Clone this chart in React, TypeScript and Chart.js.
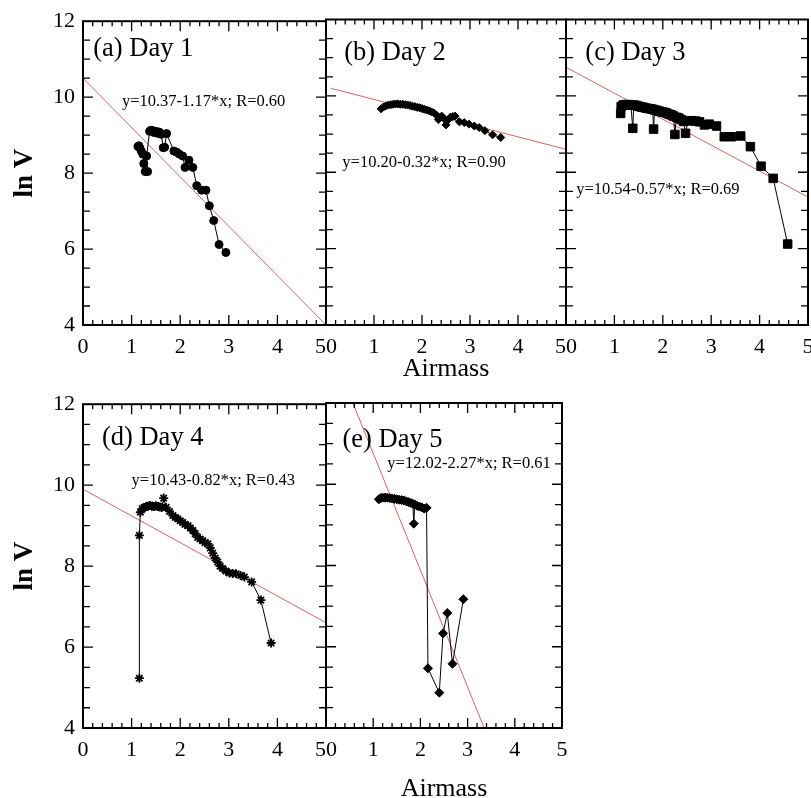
import React, { useEffect, useRef } from "react";
import { Chart, registerables } from "chart.js";

Chart.register(...registerables);

const SERIF = "'Liberation Serif', 'Times New Roman', Times, serif";
const RED = "#e06262";

// ---------- Data ----------
const xTickValues = [0, 1, 2, 3, 4, 5];
const yTickValues = [4, 6, 8, 10, 12];

// (a) Day 1
const airmassDay1 = [1.13, 1.15, 1.17, 1.2, 1.23, 1.25, 1.28, 1.33, 1.31, 1.37, 1.4, 1.43, 1.46, 1.5, 1.53, 1.57, 1.61, 1.65, 1.68, 1.72, 1.87, 1.93, 1.98, 2.05, 2.1, 2.18, 2.26, 2.34, 2.44, 2.53, 2.6, 2.69, 2.8, 2.94];
const lnVDay1 = [8.7, 8.72, 8.66, 8.58, 8.5, 8.25, 8.04, 8.04, 8.45, 9.1, 9.13, 9.12, 9.07, 9.1, 9.05, 9.08, 9.02, 8.67, 8.68, 9.04, 8.58, 8.55, 8.5, 8.45, 8.15, 8.34, 8.15, 7.67, 7.55, 7.55, 7.14, 6.75, 6.12, 5.91];
const fitXDay1 = [0, 5];
const fitYDay1 = [10.5, 4.0];

// (b) Day 2
const airmassDay2 = [1.15, 1.2, 1.25, 1.3, 1.35, 1.4, 1.45, 1.5, 1.55, 1.6, 1.65, 1.7, 1.75, 1.8, 1.85, 1.9, 1.95, 2.0, 2.05, 2.1, 2.15, 2.2, 2.25, 2.3, 2.34, 2.38, 2.41, 2.46, 2.5, 2.55, 2.59, 2.64, 2.69, 2.78, 2.88, 2.98, 3.09, 3.19, 3.31, 3.47, 3.64];
const lnVDay2 = [9.66, 9.71, 9.74, 9.76, 9.77, 9.78, 9.79, 9.79, 9.78, 9.78, 9.77, 9.76, 9.75, 9.73, 9.72, 9.7, 9.69, 9.67, 9.65, 9.63, 9.61, 9.58, 9.55, 9.5, 9.38, 9.44, 9.47, 9.4, 9.24, 9.38, 9.44, 9.46, 9.47, 9.32, 9.3, 9.26, 9.21, 9.17, 9.09, 8.98, 8.91];
const fitXDay2 = [0.1, 5];
const fitYDay2 = [10.2, 8.6];

// (c) Day 3
const airmassDay3 = [1.13, 1.14, 1.18, 1.22, 1.26, 1.3, 1.34, 1.38, 1.4, 1.45, 1.5, 1.55, 1.6, 1.65, 1.7, 1.75, 1.79, 1.81, 1.83, 1.88, 1.93, 1.98, 2.03, 2.08, 2.13, 2.18, 2.22, 2.25, 2.28, 2.33, 2.38, 2.43, 2.47, 2.52, 2.6, 2.68, 2.76, 2.86, 2.96, 3.11, 3.27, 3.42, 3.61, 3.81, 4.03, 4.28, 4.58];
const lnVDay3 = [9.54, 9.72, 9.76, 9.77, 9.77, 9.77, 9.76, 9.15, 9.76, 9.75, 9.73, 9.71, 9.7, 9.68, 9.67, 9.66, 9.65, 9.13, 9.63, 9.62, 9.6, 9.58, 9.57, 9.55, 9.52, 9.5, 9.47, 8.99, 9.44, 9.42, 9.38, 9.33, 9.02, 9.35, 9.35, 9.34, 9.32, 9.24, 9.26, 9.21, 8.93, 8.93, 8.95, 8.67, 8.16, 7.84, 6.12];
const fitXDay3 = [0, 5];
const fitYDay3 = [10.75, 7.35];

// (d) Day 4
const airmassDay4 = [1.16, 1.16, 1.18, 1.22, 1.26, 1.3, 1.34, 1.38, 1.42, 1.46, 1.5, 1.54, 1.58, 1.62, 1.66, 1.71, 1.78, 1.85, 1.9, 1.95, 2.0, 2.05, 2.1, 2.16, 2.21, 2.26, 2.31, 2.36, 2.41, 2.46, 2.51, 2.57, 2.62, 2.67, 2.72, 2.77, 2.82, 2.87, 2.94, 3.01, 3.08, 3.15, 3.24, 3.32, 3.47, 3.66, 3.87];
const lnVDay4 = [5.23, 8.76, 9.33, 9.42, 9.45, 9.47, 9.48, 9.5, 9.48, 9.47, 9.49, 9.47, 9.46, 9.45, 9.68, 9.45, 9.35, 9.25, 9.2, 9.17, 9.12, 9.08, 9.03, 9.0, 8.94, 8.88, 8.8, 8.71, 8.67, 8.63, 8.58, 8.55, 8.45, 8.32, 8.2, 8.1, 8.0, 7.94, 7.88, 7.83, 7.82, 7.81, 7.77, 7.73, 7.61, 7.16, 6.1];
const fitXDay4 = [0, 5];
const fitYDay4 = [9.9, 6.6];

// (e) Day 5
const airmassDay5 = [1.12, 1.16, 1.2, 1.25, 1.3, 1.35, 1.4, 1.45, 1.5, 1.55, 1.6, 1.65, 1.7, 1.75, 1.8, 1.84, 1.86, 1.88, 1.93, 1.98, 2.03, 2.08, 2.13, 2.16, 2.4, 2.48, 2.57, 2.68, 2.91];
const lnVDay5 = [9.63, 9.66, 9.67, 9.67, 9.67, 9.66, 9.65, 9.64, 9.63, 9.62, 9.61, 9.6, 9.58, 9.56, 9.54, 9.52, 9.03, 9.5, 9.47, 9.45, 9.43, 9.4, 9.42, 5.47, 4.87, 6.33, 6.83, 5.58, 7.17];
const fitXDay5 = [0.5, 3.4];
const fitYDay5 = [12.2, 3.86];

const panelTitles = ["(a) Day 1", "(b) Day 2", "(c) Day 3", "(d) Day 4", "(e) Day 5"];
const equations = [
  "y=10.37-1.17*x; R=0.60",
  "y=10.20-0.32*x; R=0.90",
  "y=10.54-0.57*x; R=0.69",
  "y=10.43-0.82*x; R=0.43",
  "y=12.02-2.27*x; R=0.61",
];

const EN = "\u2002";
const labelsLeftEdge = ["0", "1", "2", "3", "4", "5" + EN];
const labelsMiddle = [EN + "0", "1", "2", "3", "4", "5" + EN];
const labelsRightEdge = [EN + "0", "1", "2", "3", "4", "5"];

type Spec = {
  x: number[];
  y: number[];
  fitX: number[];
  fitY: number[];
  marker: string;
  radius: number;
  markerBorder: number;
  title: string;
  eq: string;
  titlePos: [number, number];
  eqPos: [number, number];
  xLabels: string[];
  showY: boolean;
  xTitle: boolean;
  xTitlePad: number;
  box: { left: number; top: number; width: number; height: number };
  padding: { left: number; right: number; top: number; bottom: number };
  xAxisHeight: number;
};

const specs: Spec[] = [
  {
    x: airmassDay1, y: lnVDay1, fitX: fitXDay1, fitY: fitYDay1,
    marker: "circle", radius: 4, markerBorder: 1,
    title: panelTitles[0], eq: equations[0], titlePos: [0.21, 11.27], eqPos: [0.8, 9.89],
    xLabels: labelsLeftEdge, showY: true, xTitle: false, xTitlePad: 0,
    box: { left: 0, top: 0, width: 346, height: 400 },
    padding: { left: 0, right: 20, top: 19.5, bottom: 0 }, xAxisHeight: 75,
  },
  {
    x: airmassDay2, y: lnVDay2, fitX: fitXDay2, fitY: fitYDay2,
    marker: "rectRot", radius: 4, markerBorder: 1,
    title: panelTitles[1], eq: equations[1], titlePos: [0.38, 11.12], eqPos: [0.34, 8.24],
    xLabels: labelsMiddle, showY: false, xTitle: true, xTitlePad: 15,
    box: { left: 306, top: 0, width: 280, height: 400 },
    padding: { left: 20, right: 20, top: 19.5, bottom: 0 }, xAxisHeight: 75,
  },
  {
    x: airmassDay3, y: lnVDay3, fitX: fitXDay3, fitY: fitYDay3,
    marker: "rect", radius: 6, markerBorder: 1,
    title: panelTitles[2], eq: equations[2], titlePos: [0.4, 11.12], eqPos: [0.21, 7.54],
    xLabels: labelsRightEdge, showY: false, xTitle: false, xTitlePad: 0,
    box: { left: 546, top: 0, width: 282, height: 400 },
    padding: { left: 20, right: 20, top: 19.5, bottom: 0 }, xAxisHeight: 75,
  },
  {
    x: airmassDay4, y: lnVDay4, fitX: fitXDay4, fitY: fitYDay4,
    marker: "star", radius: 4.5, markerBorder: 1.8,
    title: panelTitles[3], eq: equations[3], titlePos: [0.39, 11.17], eqPos: [1.0, 10.11],
    xLabels: labelsLeftEdge, showY: true, xTitle: false, xTitlePad: 0,
    box: { left: 0, top: 383, width: 346, height: 422 },
    padding: { left: 0, right: 20, top: 20, bottom: 0 }, xAxisHeight: 77,
  },
  {
    x: airmassDay5, y: lnVDay5, fitX: fitXDay5, fitY: fitYDay5,
    marker: "rectRot", radius: 4.5, markerBorder: 1,
    title: panelTitles[4], eq: equations[4], titlePos: [0.35, 11.1], eqPos: [1.3, 10.5],
    xLabels: labelsRightEdge, showY: false, xTitle: true, xTitlePad: 0,
    box: { left: 306, top: 383, width: 276, height: 422 },
    padding: { left: 20, right: 20, top: 20, bottom: 0 }, xAxisHeight: 77,
  },
];

function makeDeco(s: Spec) {
  return {
    id: "panelDeco",
    afterDraw(chart: any) {
      const { ctx, chartArea: a, scales } = chart;
      const xs = scales.x;
      const ys = scales.y;
      ctx.save();
      ctx.strokeStyle = "#000";
      ctx.lineWidth = 1.3;
      ctx.beginPath();
      for (let i = 1; i < 25; i++) {
        const px = xs.getPixelForValue(i * 0.2);
        const len = i % 5 === 0 ? 10 : 5;
        ctx.moveTo(px, a.bottom);
        ctx.lineTo(px, a.bottom - len);
        ctx.moveTo(px, a.top);
        ctx.lineTo(px, a.top + len);
      }
      for (let j = 1; j < 16; j++) {
        const py = ys.getPixelForValue(4 + j * 0.5);
        const len = j % 4 === 0 ? 10 : 7;
        ctx.moveTo(a.left, py);
        ctx.lineTo(a.left + len, py);
        ctx.moveTo(a.right, py);
        ctx.lineTo(a.right - len, py);
      }
      ctx.stroke();
      ctx.lineWidth = 2;
      ctx.strokeRect(a.left, a.top, a.right - a.left, a.bottom - a.top);

      ctx.fillStyle = "#000";
      ctx.textAlign = "left";
      ctx.textBaseline = "middle";
      ctx.font = `26.5px ${SERIF}`;
      ctx.fillText(s.title, xs.getPixelForValue(s.titlePos[0]), ys.getPixelForValue(s.titlePos[1]));
      ctx.font = `16.5px ${SERIF}`;
      ctx.fillText(s.eq, xs.getPixelForValue(s.eqPos[0]), ys.getPixelForValue(s.eqPos[1]));
      ctx.restore();
    },
  };
}

function buildConfig(s: Spec): any {
  return {
    type: "scatter",
    data: {
      datasets: [
        {
          data: s.fitX.map((x, i) => ({ x, y: s.fitY[i] })),
          showLine: true,
          borderColor: RED,
          borderWidth: 1,
          pointRadius: 0,
          order: 2,
        },
        {
          data: s.x.map((x, i) => ({ x, y: s.y[i] })),
          showLine: true,
          borderColor: "#000",
          borderWidth: 1,
          backgroundColor: "#000",
          pointBackgroundColor: "#000",
          pointBorderColor: "#000",
          pointStyle: s.marker,
          pointRadius: s.radius,
          pointBorderWidth: s.markerBorder,
          order: 1,
        },
      ],
    },
    options: {
      responsive: false,
      animation: false,
      events: [],
      layout: { padding: s.padding },
      plugins: { legend: { display: false }, tooltip: { enabled: false } },
      scales: {
        x: {
          type: "linear",
          min: 0,
          max: 5,
          grid: { display: false, drawTicks: false },
          border: { display: false },
          afterBuildTicks: (sc: any) => {
            sc.ticks = xTickValues.map((v) => ({ value: v }));
          },
          ticks: {
            autoSkip: false,
            maxRotation: 0,
            padding: 9,
            color: "#000",
            font: { family: SERIF, size: 22 },
            callback: (v: any) => s.xLabels[xTickValues.indexOf(Number(v))] ?? "",
          },
          title: s.xTitle
            ? {
                display: true,
                text: "Airmass",
                color: "#000",
                font: { family: SERIF, size: 26 },
                padding: { top: 0, bottom: s.xTitlePad },
              }
            : { display: false },
          afterFit: (sc: any) => {
            sc.height = s.xAxisHeight;
          },
        },
        y: {
          type: "linear",
          min: 4,
          max: 12,
          display: s.showY,
          grid: { display: false, drawTicks: false },
          border: { display: false },
          afterBuildTicks: (sc: any) => {
            sc.ticks = yTickValues.map((v) => ({ value: v }));
          },
          ticks: {
            padding: 8,
            color: "#000",
            font: { family: SERIF, size: 22 },
          },
          title: {
            display: true,
            text: "ln V",
            color: "#000",
            font: { family: SERIF, size: 27, weight: "bold" },
            padding: { top: 9, bottom: 0 },
          },
          afterFit: (sc: any) => {
            sc.width = s.showY ? 83 : 0;
          },
        },
      },
    },
    plugins: [makeDeco(s)],
  };
}

function Panel({ spec }: { spec: Spec }) {
  const ref = useRef<HTMLCanvasElement | null>(null);
  useEffect(() => {
    if (!ref.current) return;
    const chart = new Chart(ref.current, buildConfig(spec));
    return () => chart.destroy();
  }, [spec]);
  const b = spec.box;
  return (
    <div style={{ position: "absolute", left: b.left, top: b.top, width: b.width, height: b.height }}>
      <canvas ref={ref} width={b.width} height={b.height} style={{ display: "block" }} />
    </div>
  );
}

export default function App() {
  return (
    <div
      style={{
        position: "absolute",
        left: 0,
        top: 0,
        width: 811,
        height: 798,
        overflow: "hidden",
        background: "#fff",
      }}
    >
      {specs.map((s, i) => (
        <Panel key={i} spec={s} />
      ))}
    </div>
  );
}
